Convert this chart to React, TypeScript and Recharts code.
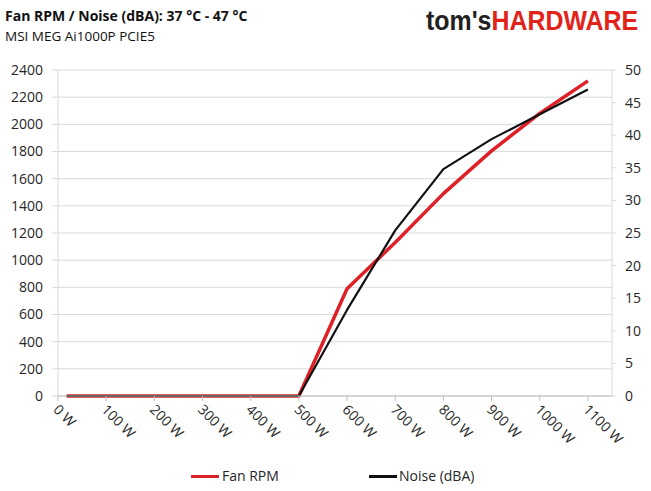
import React from "react";
import { LineChart, Line, XAxis, YAxis, CartesianGrid } from "recharts";

const watts = [18, 100, 200, 300, 400, 500, 600, 700, 800, 900, 1000, 1100];
const fanRpm = [0, 0, 0, 0, 0, 0, 790, 1130, 1490, 1805, 2080, 2320];
const noiseDba = [0, 0, 0, 0, 0, 0, 13.2, 25.4, 34.8, 39.4, 43.2, 47.0];
const xTicks = [0, 100, 200, 300, 400, 500, 600, 700, 800, 900, 1000, 1100];
const rpmTicks = [0, 200, 400, 600, 800, 1000, 1200, 1400, 1600, 1800, 2000, 2200, 2400];
const dbaTicks = [0, 5, 10, 15, 20, 25, 30, 35, 40, 45, 50];

const data = watts.map((w, i) => ({ w, rpm: fanRpm[i], noise: noiseDba[i] }));

const RED = "#dd2127";
const BLACK = "#111111";
const FONT = "'Open Sans', 'Noto Sans', sans-serif";
const TXT = "#262626";

const XTick = (props: any) => {
  const { x, y, payload } = props;
  return (
    <g transform={`translate(${x - 2},${y + 4})`}>
      <text
        x={0}
        y={0}
        dy="0.35em"
        transform="rotate(45)"
        textAnchor="start"
        fontSize={14}
        fontFamily={FONT}
        fill={TXT}
      >
        {`${payload.value} W`}
      </text>
    </g>
  );
};

export default function App() {
  return (
    <div style={{ position: "relative", width: 651, height: 491, background: "#fff" }}>
      <style>{"body{margin:0}"}</style>
      <div
        style={{
          position: "absolute",
          left: 5,
          top: 6,
          fontFamily: FONT,
          color: "#111",
          lineHeight: "20px",
        }}
      >
        <div style={{ fontSize: 14, fontWeight: 700 }}>Fan RPM / Noise (dBA): 37 °C - 47 °C</div>
        <div style={{ fontSize: 13.5 }}>MSI MEG Ai1000P PCIE5</div>
      </div>
      <div
        style={{
          position: "absolute",
          left: 426,
          top: 1,
          fontFamily: "'Liberation Sans', Arial, sans-serif",
          fontWeight: 700,
          fontSize: 28,
          lineHeight: "40px",
          whiteSpace: "nowrap",
          transform: "scaleX(0.89)",
          transformOrigin: "0 0",
        }}
      >
        <span style={{ color: "#231f20" }}>tom's</span>
        <span style={{ color: "#e2231a" }}>HARDWARE</span>
      </div>
      <LineChart
        width={651}
        height={491}
        data={data}
        margin={{ top: 70, right: 0, bottom: 0, left: 0 }}
      >
        <CartesianGrid yAxisId="left" vertical={false} stroke="#d9d9d9" strokeWidth={1} />
        <XAxis
          dataKey="w"
          type="number"
          domain={[0, 1150]}
          ticks={xTicks}
          interval={0}
          height={95}
          axisLine={{ stroke: "#bfbfbf" }}
          tickLine={{ stroke: "#bfbfbf" }}
          tickSize={5}
          tick={<XTick />}
        />
        <YAxis
          yAxisId="left"
          orientation="left"
          domain={[0, 2400]}
          ticks={rpmTicks}
          interval={0}
          width={58}
          axisLine={{ stroke: "#d9d9d9" }}
          tickLine={{ stroke: "#d9d9d9" }}
          tickSize={6}
          tickMargin={9}
          tick={{ fontSize: 14, fontFamily: FONT, fill: TXT }}
        />
        <YAxis
          yAxisId="right"
          orientation="right"
          domain={[0, 50]}
          ticks={dbaTicks}
          interval={0}
          width={39}
          axisLine={{ stroke: "#d9d9d9" }}
          tickLine={{ stroke: "#d9d9d9" }}
          tickSize={4}
          tickMargin={9}
          tick={{ fontSize: 14, fontFamily: FONT, fill: TXT }}
        />
        <Line
          yAxisId="left"
          dataKey="rpm"
          stroke={RED}
          strokeWidth={3.5}
          dot={false}
          isAnimationActive={false}
          strokeLinejoin="round"
        />
        <Line
          yAxisId="right"
          dataKey="noise"
          stroke={BLACK}
          strokeWidth={2.2}
          dot={false}
          isAnimationActive={false}
          strokeLinejoin="round"
        />
      </LineChart>
      <div
        style={{
          position: "absolute",
          top: 466,
          left: 0,
          width: 651,
          fontFamily: FONT,
          fontSize: 14,
          color: TXT,
        }}
      >
        <div style={{ position: "absolute", left: 191, top: 9, width: 28, height: 3, background: RED }} />
        <div style={{ position: "absolute", left: 222, top: 0 }}>Fan RPM</div>
        <div style={{ position: "absolute", left: 369, top: 9, width: 28, height: 3, background: BLACK }} />
        <div style={{ position: "absolute", left: 399, top: 0 }}>Noise (dBA)</div>
      </div>
    </div>
  );
}
